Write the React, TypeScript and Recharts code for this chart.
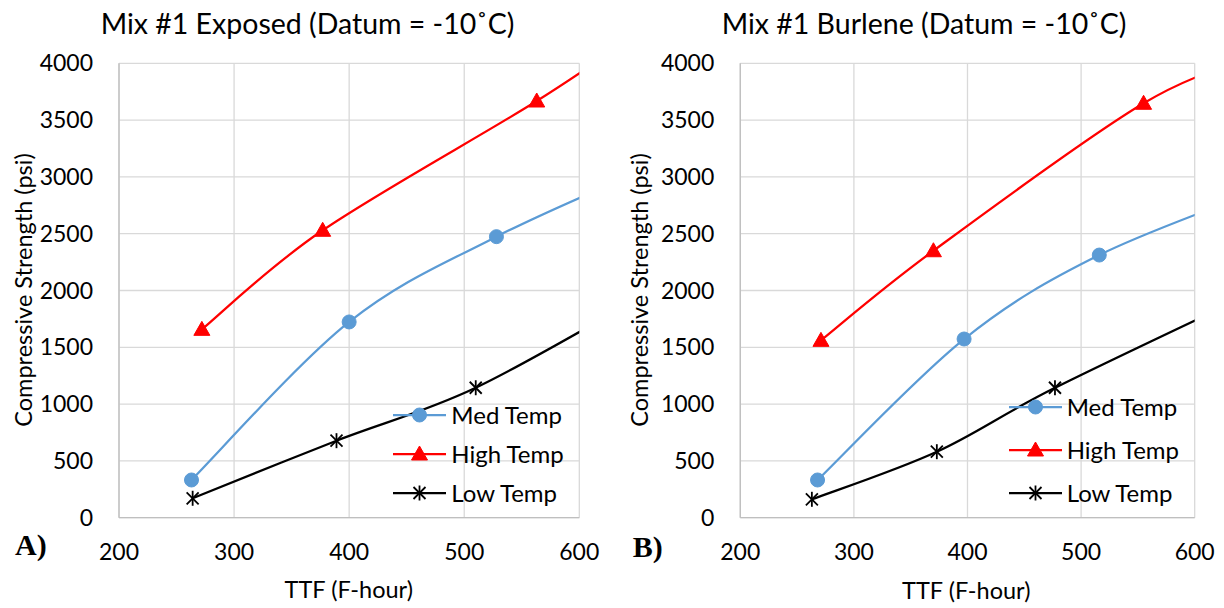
import React from 'react';
import { LineChart, Line, XAxis, YAxis, CartesianGrid, Legend } from 'recharts';

const FONT = 'Lato, "Open Sans", sans-serif';

const xTicks = [200, 300, 400, 500, 600];
const yTicks = [0, 500, 1000, 1500, 2000, 2500, 3000, 3500, 4000];
const seriesNames = ['Med Temp', 'High Temp', 'Low Temp'];
const seriesColors = ['#5B9BD5', '#FF0000', '#000000'];

// Panel A: Mix #1 Exposed (last point of each series lies beyond the axis max and is clipped)
const exposedMedTTF = [263, 400, 528, 660];
const exposedMedStrength = [332, 1723, 2474, 3080];
const exposedHighTTF = [272, 377, 563, 660];
const exposedHighStrength = [1658, 2530, 3668, 4330];
const exposedLowTTF = [264, 389, 510, 660];
const exposedLowStrength = [171, 678, 1144, 1980];

// Panel B: Mix #1 Burlene
const burleneMedTTF = [268, 397, 516, 670];
const burleneMedStrength = [332, 1573, 2312, 2930];
const burleneHighTTF = [271, 370, 555, 660];
const burleneHighStrength = [1561, 2350, 3648, 4080];
const burleneLowTTF = [263, 373, 477, 660];
const burleneLowStrength = [162, 581, 1144, 2020];

const toData = (xs: number[], ys: number[]) => xs.map((x, i) => ({ ttf: x, strength: ys[i] }));

// Excel-like smoothed line (Catmull-Rom style Bezier)
const excelSmooth = (context: any) => {
  let pts: [number, number][] = [];
  return {
    areaStart() {},
    areaEnd() {},
    lineStart() {
      pts = [];
    },
    lineEnd() {
      if (!pts.length) return;
      context.moveTo(pts[0][0], pts[0][1]);
      const t = 1 / 6;
      for (let i = 0; i < pts.length - 1; i++) {
        const p0 = pts[i - 1] || pts[i];
        const p1 = pts[i];
        const p2 = pts[i + 1];
        const p3 = pts[i + 2] || p2;
        context.bezierCurveTo(
          p1[0] + (p2[0] - p0[0]) * t,
          p1[1] + (p2[1] - p0[1]) * t,
          p2[0] - (p3[0] - p1[0]) * t,
          p2[1] - (p3[1] - p1[1]) * t,
          p2[0],
          p2[1]
        );
      }
    },
    point(x: number, y: number) {
      pts.push([x, y]);
    },
  };
};

const Marker = ({ kind, cx, cy }: { kind: string; cx: number; cy: number }) => {
  if (kind === 'Med Temp') {
    return <circle cx={cx} cy={cy} r={7} fill="#5B9BD5" stroke="#5B9BD5" />;
  }
  if (kind === 'High Temp') {
    return (
      <polygon
        points={`${cx},${cy - 8} ${cx - 8},${cy + 6} ${cx + 8},${cy + 6}`}
        fill="#FF0000"
        stroke="#FF0000"
      />
    );
  }
  return (
    <g stroke="#000" strokeWidth={1.8}>
      <line x1={cx - 6} y1={cy - 6} x2={cx + 6} y2={cy + 6} />
      <line x1={cx - 6} y1={cy + 6} x2={cx + 6} y2={cy - 6} />
      <line x1={cx} y1={cy - 7.5} x2={cx} y2={cy + 7.5} />
    </g>
  );
};

const makeLegend = (rowGap: number) => (props: any) => {
  const payload = [...(props.payload || [])].sort(
    (a: any, b: any) => seriesNames.indexOf(a.value) - seriesNames.indexOf(b.value)
  );
  return (
    <div>
      {payload.map((entry: any) => {
        const idx = seriesNames.indexOf(entry.value);
        return (
          <div key={entry.value} style={{ display: 'flex', alignItems: 'center', height: rowGap }}>
            <svg width={53} height={20} style={{ overflow: 'visible', flex: 'none' }}>
              <line x1={0} x2={53} y1={10} y2={10} stroke={seriesColors[idx]} strokeWidth={2.25} />
              <Marker kind={entry.value} cx={26.5} cy={10} />
            </svg>
            <span style={{ marginLeft: 5, fontSize: 24, fontFamily: FONT, color: '#000', whiteSpace: 'nowrap', lineHeight: 1 }}>
              {entry.value}
            </span>
          </div>
        );
      })}
    </div>
  );
};

type PanelProps = {
  left: number;
  yAxisWidth: number;
  rightMargin: number;
  legendLeft: number;
  legendTop: number;
  rowGap: number;
  series: { ttf: number; strength: number }[][];
};

const Panel = ({ left, yAxisWidth, rightMargin, legendLeft, legendTop, rowGap, series }: PanelProps) => (
  <div style={{ position: 'absolute', left, top: 0 }}>
    <LineChart width={612} height={608} margin={{ top: 63.3, right: rightMargin, bottom: 0, left: 0 }}>
      <CartesianGrid stroke="#D9D9D9" strokeWidth={1.3} />
      <XAxis
        type="number"
        dataKey="ttf"
        domain={[200, 600]}
        ticks={xTicks}
        allowDataOverflow
        height={90.3}
        tickLine={false}
        tickSize={0}
        tickMargin={26}
        axisLine={{ stroke: '#BFBFBF', strokeWidth: 1.3 }}
        tick={{ fill: '#000', fontSize: 23, fontFamily: FONT }}
      />
      <YAxis
        type="number"
        dataKey="strength"
        domain={[0, 4000]}
        ticks={yTicks}
        allowDataOverflow
        width={yAxisWidth}
        tickLine={false}
        tickSize={0}
        tickMargin={26}
        axisLine={{ stroke: '#BFBFBF', strokeWidth: 1.3 }}
        tick={{ fill: '#000', fontSize: 23, fontFamily: FONT }}
      />
      <Legend
        layout="vertical"
        align="center"
        verticalAlign="middle"
        content={makeLegend(rowGap)}
        wrapperStyle={{ left: legendLeft, top: legendTop, width: 200, height: 'auto' }}
      />
      {series.map((data, i) => (
        <Line
          key={seriesNames[i]}
          name={seriesNames[i]}
          data={data}
          dataKey="strength"
          type={excelSmooth as any}
          stroke={seriesColors[i]}
          strokeWidth={2.25}
          isAnimationActive={false}
          activeDot={false}
          dot={(p: any) => <Marker key={`${seriesNames[i]}-${p.index}`} kind={seriesNames[i]} cx={p.cx} cy={p.cy} />}
        />
      ))}
    </LineChart>
  </div>
);

export default function App() {
  const exposed = [
    toData(exposedMedTTF, exposedMedStrength),
    toData(exposedHighTTF, exposedHighStrength),
    toData(exposedLowTTF, exposedLowStrength),
  ];
  const burlene = [
    toData(burleneMedTTF, burleneMedStrength),
    toData(burleneHighTTF, burleneHighStrength),
    toData(burleneLowTTF, burleneLowStrength),
  ];
  return (
    <div style={{ position: 'absolute', left: 0, top: 0, width: 1224, height: 608, background: '#fff', overflow: 'hidden' }}>
      <Panel left={0} yAxisWidth={119} rightMargin={32.7} legendLeft={393.3} legendTop={395.5} rowGap={39} series={exposed} />
      <Panel left={612} yAxisWidth={128.3} rightMargin={29.3} legendLeft={396.7} legendTop={386} rowGap={42.7} series={burlene} />
      <svg width={1224} height={608} style={{ position: 'absolute', left: 0, top: 0, pointerEvents: 'none' }}>
        <g fontFamily={FONT} fill="#000">
          <text x={307.5} y={33.5} fontSize={28.5} textAnchor="middle">Mix #1 Exposed (Datum = -10˚C)</text>
          <text x={924} y={33.5} fontSize={28.5} textAnchor="middle">Mix #1 Burlene (Datum = -10˚C)</text>
          <text x={348.8} y={598.3} fontSize={23.5} textAnchor="middle">TTF (F-hour)</text>
          <text x={966.3} y={598.5} fontSize={23.5} textAnchor="middle">TTF (F-hour)</text>
          <text x={31.7} y={290} fontSize={23.5} textAnchor="middle" transform="rotate(-90 31.7 290)">
            Compressive Strength (psi)
          </text>
          <text x={647.7} y={290} fontSize={23.5} textAnchor="middle" transform="rotate(-90 647.7 290)">
            Compressive Strength (psi)
          </text>
        </g>
        <g fontFamily='"Liberation Serif", "DejaVu Serif", serif' fontWeight="bold" fill="#000" fontSize={30}>
          <text x={15} y={555}>A)</text>
          <text x={632.7} y={556.5}>B)</text>
        </g>
      </svg>
    </div>
  );
}
